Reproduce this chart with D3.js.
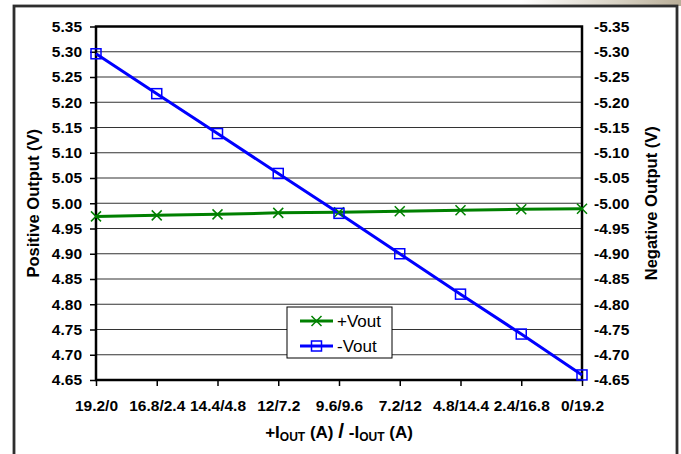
<!DOCTYPE html>
<html>
<head>
<meta charset="utf-8">
<script src="https://cdn.jsdelivr.net/npm/d3@7"></script>
<style>
  body { margin: 0; background: #fff; }
  svg { display: block; font-family: "Liberation Sans", Arial, sans-serif; }
</style>
</head>
<body>
<svg id="chart" width="681" height="454"></svg>
<script>
// load categories ( +Iout / -Iout in A )
const categories = ['19.2/0', '16.8/2.4', '14.4/4.8', '12/7.2', '9.6/9.6', '7.2/12', '4.8/14.4', '2.4/16.8', '0/19.2'];
// positive rail
const posVout = [4.974, 4.976, 4.978, 4.981, 4.982, 4.984, 4.986, 4.988, 4.989];
// negative rail
const negVout = [-5.296, -5.217, -5.138, -5.059, -4.980, -4.900, -4.820, -4.741, -4.660];
const leftTicks = [4.65, 4.70, 4.75, 4.80, 4.85, 4.90, 4.95, 5.00, 5.05, 5.10, 5.15, 5.20, 5.25, 5.30, 5.35];
const rightTicks = [-4.65, -4.70, -4.75, -4.80, -4.85, -4.90, -4.95, -5.00, -5.05, -5.10, -5.15, -5.20, -5.25, -5.30, -5.35];

const svg = d3.select('#chart');
const plot = { left: 96, right: 582, top: 26.5, bottom: 380 };
const green = '#008000';
const blue = '#0000ff';
const font = '"Liberation Sans", Arial, sans-serif';

// bit of the page behind the chart, top right corner
const defs = svg.append('defs');
const grad = defs.append('linearGradient').attr('id', 'bg').attr('x1', 0).attr('x2', 1);
grad.append('stop').attr('offset', 0).attr('stop-color', '#fff');
grad.append('stop').attr('offset', 0.6).attr('stop-color', '#d8d2c4');
grad.append('stop').attr('offset', 1).attr('stop-color', '#b9ae98');
svg.append('rect').attr('x', 520).attr('y', 0).attr('width', 161).attr('height', 6).attr('fill', 'url(#bg)');

// outer frame
svg.append('rect')
  .attr('x', 14).attr('y', 6).attr('width', 663).attr('height', 460)
  .attr('fill', '#fff').attr('stroke', '#2e2e2e').attr('stroke-width', 2.8);

const x = d3.scalePoint().domain(categories).range([plot.left, plot.right]);
const yL = d3.scaleLinear().domain([4.65, 5.35]).range([plot.bottom, plot.top]);
const yR = d3.scaleLinear().domain([-4.65, -5.35]).range([plot.bottom, plot.top]);
const fmt = d => d.toFixed(2);

// gridlines
svg.append('g')
  .selectAll('line')
  .data(leftTicks.slice(1, -1))
  .join('line')
  .attr('x1', plot.left).attr('x2', plot.right)
  .attr('y1', d => yL(d)).attr('y2', d => yL(d))
  .attr('stroke', '#333').attr('stroke-width', 1.2);

// left axis
const axL = svg.append('g')
  .attr('transform', `translate(${plot.left},0)`)
  .call(d3.axisLeft(yL).tickValues(leftTicks).tickFormat(fmt).tickSize(6).tickPadding(8));
axL.select('.domain').remove();
axL.selectAll('.tick line').attr('stroke', '#000').attr('stroke-width', 1.5);
axL.selectAll('.tick text')
  .attr('font-size', 15.5).attr('font-weight', 'bold').attr('fill', '#000').attr('font-family', font);

// right axis labels only
const axR = svg.append('g')
  .attr('transform', `translate(${plot.right},0)`)
  .call(d3.axisRight(yR).tickValues(rightTicks).tickFormat(fmt).tickSize(0).tickPadding(12));
axR.select('.domain').remove();
axR.selectAll('.tick text')
  .attr('font-size', 15.5).attr('font-weight', 'bold').attr('fill', '#000').attr('font-family', font);

// bottom axis
const axB = svg.append('g')
  .attr('transform', `translate(0,${plot.bottom})`)
  .call(d3.axisBottom(x).tickSize(6).tickPadding(14));
axB.select('.domain').remove();
axB.selectAll('.tick line').attr('stroke', '#000').attr('stroke-width', 1.5);
axB.selectAll('.tick text')
  .attr('font-size', 15.5).attr('font-weight', 'bold').attr('fill', '#000').attr('font-family', font);

// plot border
svg.append('rect')
  .attr('x', plot.left).attr('y', plot.top)
  .attr('width', plot.right - plot.left).attr('height', plot.bottom - plot.top)
  .attr('fill', 'none').attr('stroke', '#000').attr('stroke-width', 2.5);

// series
const linePos = d3.line().x((d, i) => x(categories[i])).y(d => yL(d));
const lineNeg = d3.line().x((d, i) => x(categories[i])).y(d => yR(d));

svg.append('path').datum(posVout)
  .attr('d', linePos).attr('fill', 'none').attr('stroke', green).attr('stroke-width', 3);
svg.append('path').datum(negVout)
  .attr('d', lineNeg).attr('fill', 'none').attr('stroke', blue).attr('stroke-width', 3);

const xMark = (g, cx, cy) => g.append('path')
  .attr('d', `M${cx - 5},${cy - 5}L${cx + 5},${cy + 5}M${cx - 5},${cy + 5}L${cx + 5},${cy - 5}`)
  .attr('stroke', green).attr('stroke-width', 1.5).attr('fill', 'none');
const sqMark = (g, cx, cy) => g.append('rect')
  .attr('x', cx - 5).attr('y', cy - 5).attr('width', 10).attr('height', 10)
  .attr('fill', 'none').attr('stroke', blue).attr('stroke-width', 1.5);

const marks = svg.append('g');
posVout.forEach((v, i) => xMark(marks, x(categories[i]), yL(v)));
negVout.forEach((v, i) => sqMark(marks, x(categories[i]), yR(v)));

// legend
const leg = svg.append('g');
leg.append('rect').attr('x', 287).attr('y', 307).attr('width', 105).attr('height', 51)
  .attr('fill', '#fff').attr('stroke', '#000').attr('stroke-width', 1);
const legItems = [
  { label: '+Vout', color: green, mark: xMark, y: 321 },
  { label: '-Vout', color: blue, mark: sqMark, y: 346 }
];
legItems.forEach(it => {
  leg.append('line').attr('x1', 300).attr('x2', 333).attr('y1', it.y).attr('y2', it.y)
    .attr('stroke', it.color).attr('stroke-width', 3);
  it.mark(leg, 316.5, it.y);
  leg.append('text').attr('x', 337).attr('y', it.y + 6)
    .attr('font-size', 17).attr('fill', '#000').text(it.label);
});

// axis titles
svg.append('text')
  .attr('transform', `translate(39,${(plot.top + plot.bottom) / 2}) rotate(-90)`)
  .attr('text-anchor', 'middle').attr('font-size', 16.5).attr('font-weight', 'bold')
  .text('Positive Output (V)');
svg.append('text')
  .attr('transform', `translate(657,${(plot.top + plot.bottom) / 2}) rotate(-90)`)
  .attr('text-anchor', 'middle').attr('font-size', 16.5).attr('font-weight', 'bold')
  .text('Negative Output (V)');

const xt = svg.append('text')
  .attr('x', 339).attr('y', 438)
  .attr('text-anchor', 'middle').attr('font-size', 17).attr('font-weight', 'bold');
xt.append('tspan').text('+I');
xt.append('tspan').attr('font-size', 12).attr('dy', 3).text('OUT');
xt.append('tspan').attr('dy', -3).text(' (A) ');
xt.append('tspan').attr('font-size', 21).text('/');
xt.append('tspan').text(' -I');
xt.append('tspan').attr('font-size', 12).attr('dy', 3).text('OUT');
xt.append('tspan').attr('dy', -3).text(' (A)');
</script>
</body>
</html>
